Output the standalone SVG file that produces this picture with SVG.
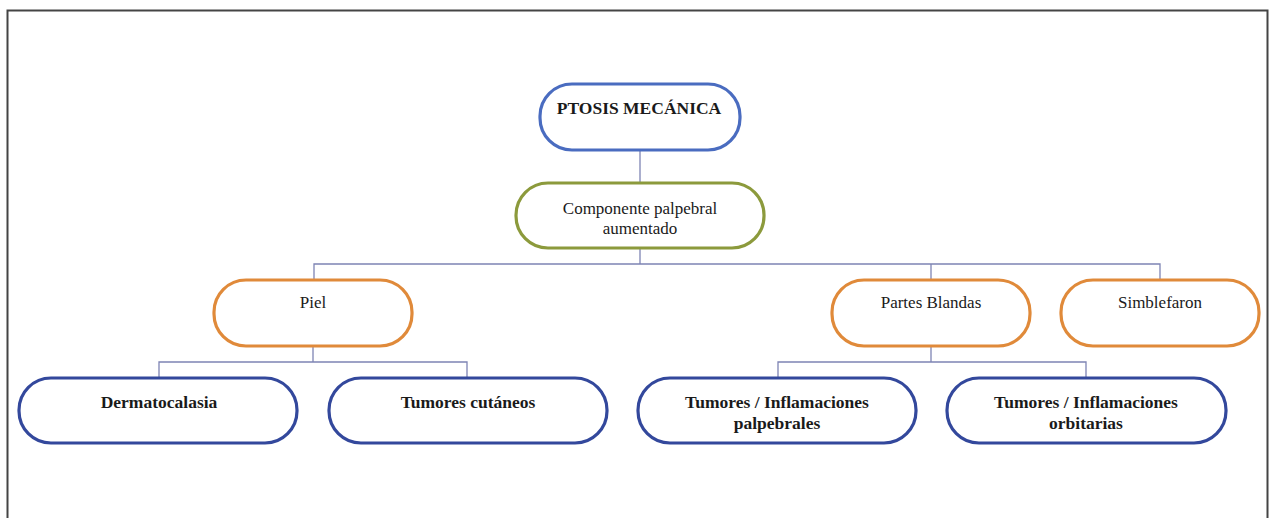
<svg xmlns="http://www.w3.org/2000/svg" width="1269" height="518" viewBox="0 0 1269 518">
  <style>
    .node { fill: #ffffff; stroke-width: 3.2; }
    .root { stroke: #4a6cc0; }
    .mid { stroke: #8c9a3c; }
    .cat { stroke: #e08a3a; }
    .leaf { stroke: #33489c; }
    .t { font-family: "Liberation Serif", "Times New Roman", serif; font-size: 17px; fill: #1a1a1a; text-anchor: middle; }
    .b { font-weight: bold; font-size: 17.5px; }
    .link { fill: none; stroke: #7e84b4; stroke-width: 1.3; }
  </style>
  <rect width="1269" height="518" fill="#ffffff"/>
  <!-- outer frame -->
  <path d="M7.5 518 V10.5 H1267.5 V518" fill="none" stroke="#444444" stroke-width="2"/>

  <g id="connectors">
    <path class="link" d="M640 150 V183"/>
    <path class="link" d="M640 248 V264"/>
    <path class="link" d="M314 280 V264 H1160 V280"/>
    <path class="link" d="M931 264 V280"/>
    <path class="link" d="M313 346 V362"/>
    <path class="link" d="M159 378 V362 H467 V378"/>
    <path class="link" d="M931 346 V362"/>
    <path class="link" d="M778 378 V362 H1086 V378"/>
  </g>

  <g id="ptosis">
    <rect class="node root" x="540" y="84" width="200" height="66" rx="32"/>
    <text class="t b" x="639" y="114">PTOSIS MECÁNICA</text>
  </g>

  <g id="componente">
    <rect class="node mid" x="516" y="183" width="248" height="65" rx="32"/>
    <text class="t" x="640" y="214">Componente palpebral</text>
    <text class="t" x="640" y="234">aumentado</text>
  </g>

  <g id="piel">
    <rect class="node cat" x="214" y="280" width="198" height="66" rx="32"/>
    <text class="t" x="313" y="308">Piel</text>
  </g>

  <g id="partes-blandas">
    <rect class="node cat" x="832" y="280" width="198" height="66" rx="32"/>
    <text class="t" x="931" y="308">Partes Blandas</text>
  </g>

  <g id="simblefaron">
    <rect class="node cat" x="1061" y="280" width="198" height="66" rx="32"/>
    <text class="t" x="1160" y="308">Simblefaron</text>
  </g>

  <g id="dermatocalasia">
    <rect class="node leaf" x="19" y="378" width="278" height="65" rx="32"/>
    <text class="t b" x="159" y="408">Dermatocalasia</text>
  </g>

  <g id="tumores-cutaneos">
    <rect class="node leaf" x="329" y="378" width="278" height="65" rx="32"/>
    <text class="t b" x="468" y="408">Tumores cutáneos</text>
  </g>

  <g id="tumores-palpebrales">
    <rect class="node leaf" x="638" y="378" width="278" height="65" rx="32"/>
    <text class="t b" x="777" y="408">Tumores / Inflamaciones</text>
    <text class="t b" x="777" y="429">palpebrales</text>
  </g>

  <g id="tumores-orbitarias">
    <rect class="node leaf" x="947" y="378" width="279" height="65" rx="32"/>
    <text class="t b" x="1086" y="408">Tumores / Inflamaciones</text>
    <text class="t b" x="1086" y="429">orbitarias</text>
  </g>
</svg>
